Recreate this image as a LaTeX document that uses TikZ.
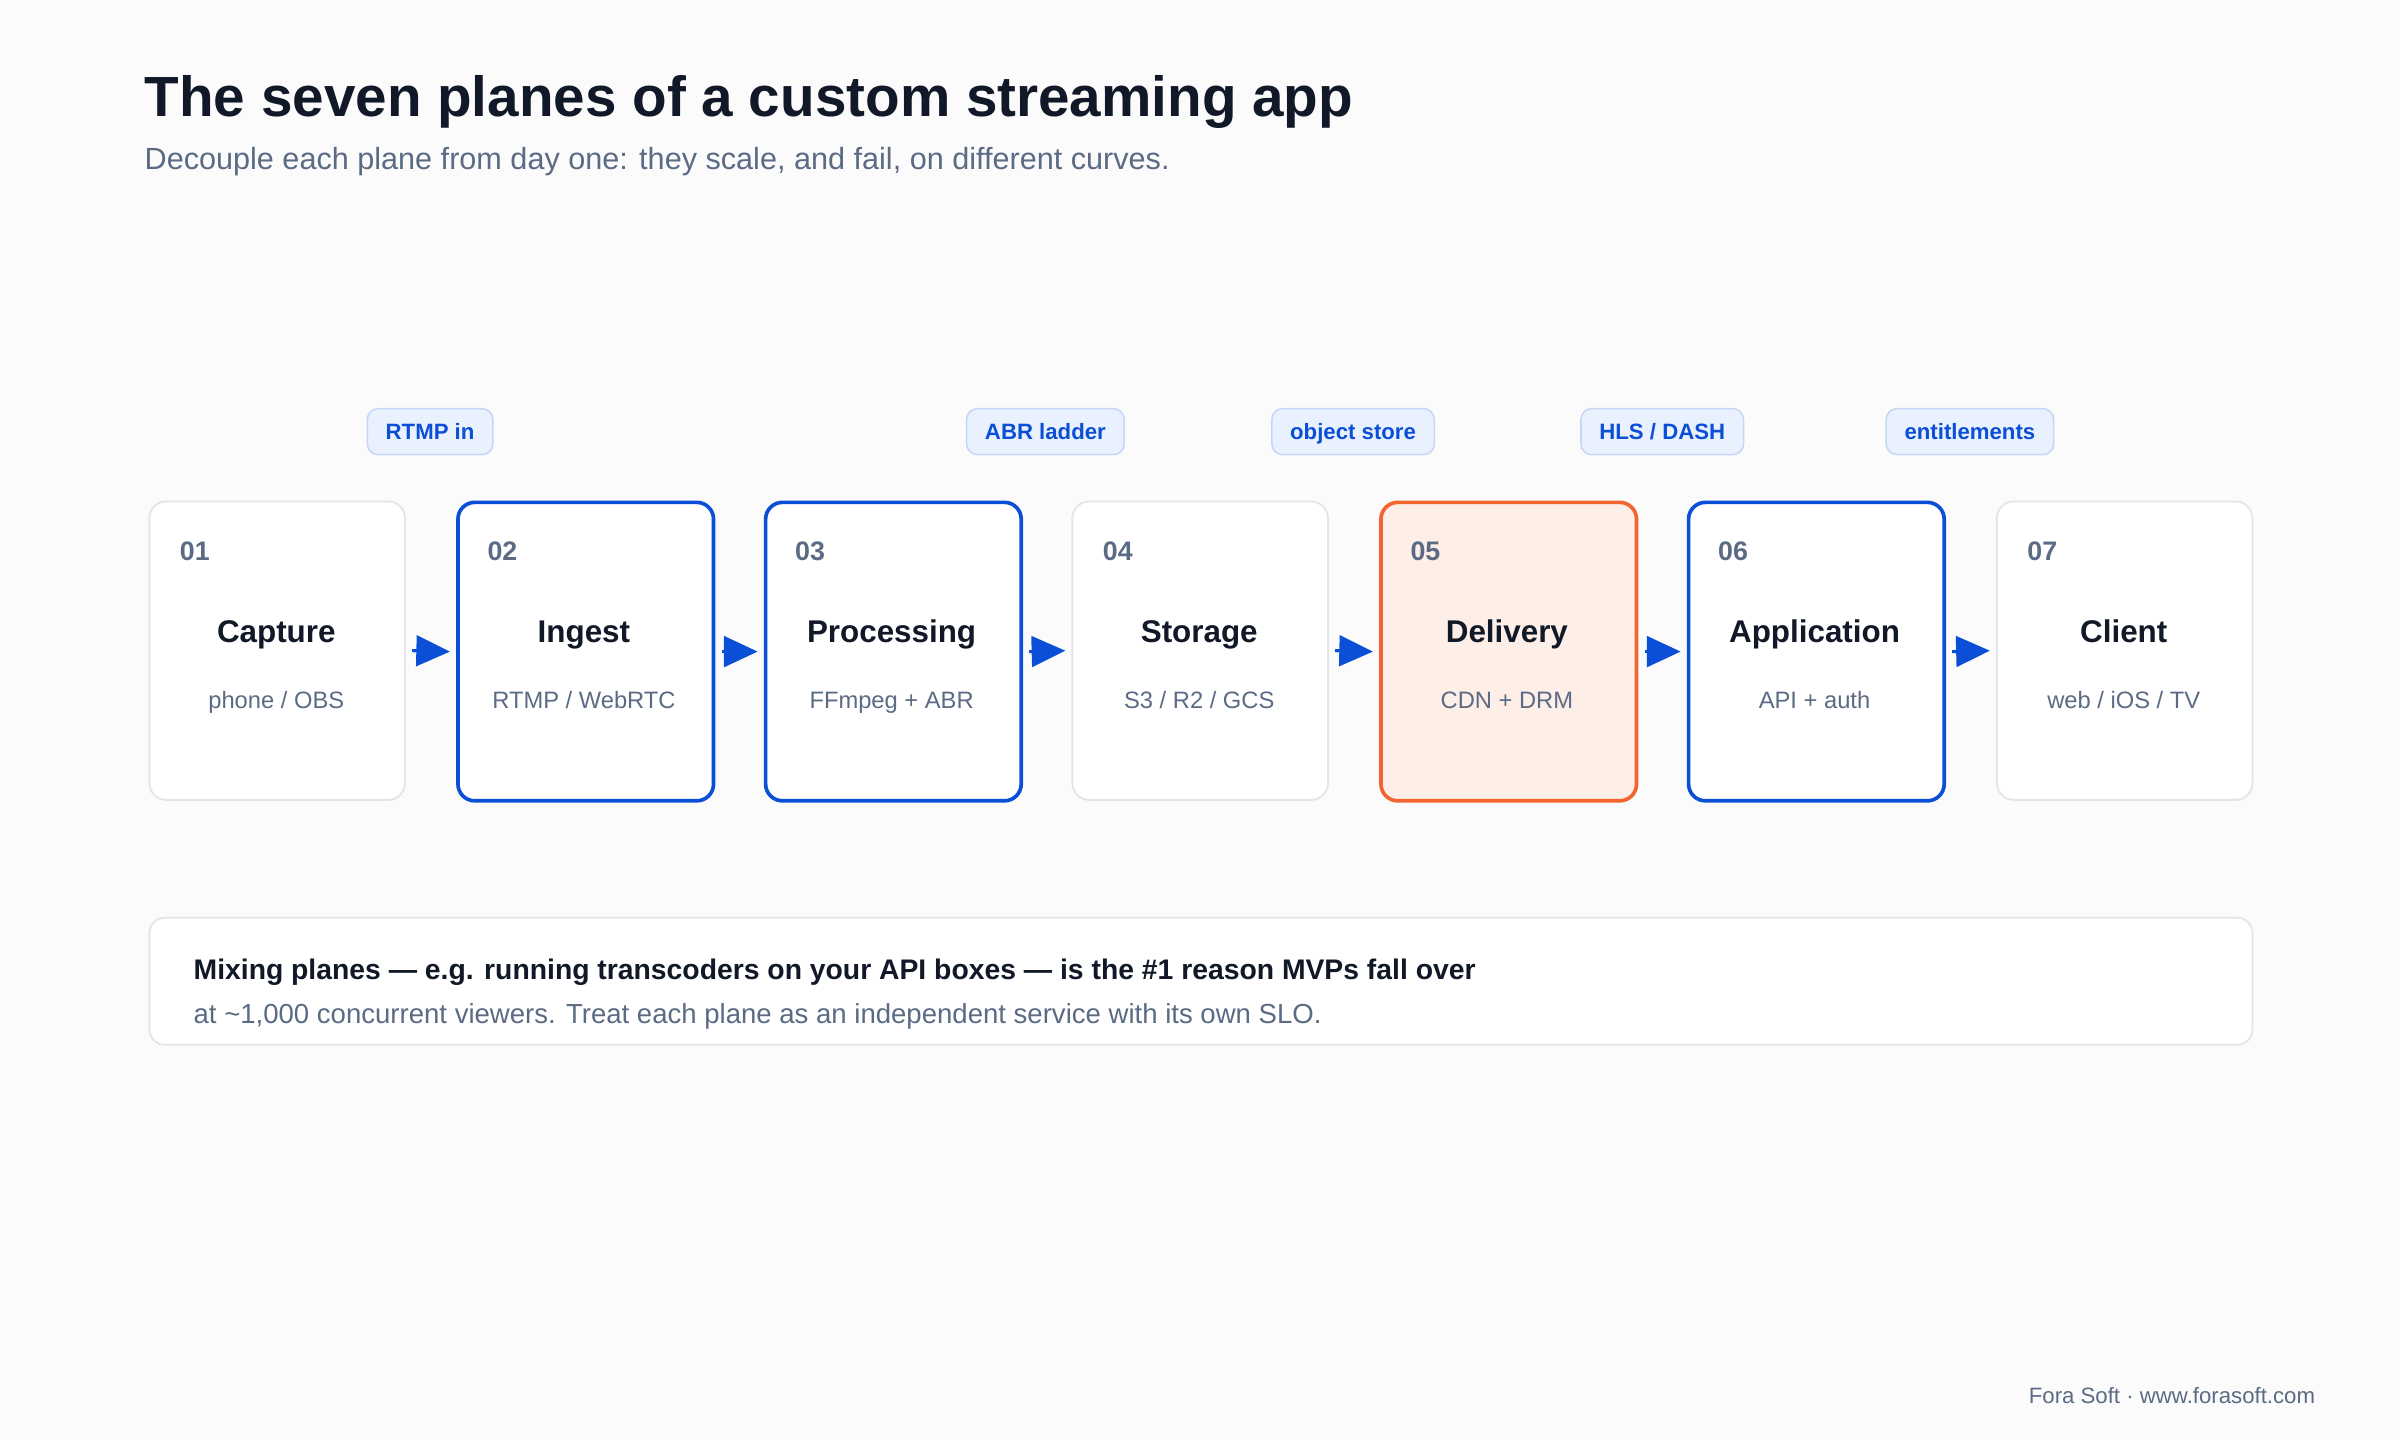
\documentclass[tikz,border=0pt]{standalone}
\usepackage{fontspec}
\setmainfont{Liberation Sans}
\usetikzlibrary{arrows.meta}
\definecolor{bg}{HTML}{FBFBFC}
\definecolor{ink}{HTML}{111827}
\definecolor{mute}{HTML}{5B6B84}
\definecolor{blu}{HTML}{0B4FD6}
\definecolor{org}{HTML}{F26430}
\definecolor{orgf}{HTML}{FDEEE7}
\definecolor{gb}{HTML}{E2E5EC}
\definecolor{pf}{HTML}{EAF1FE}
\definecolor{pb}{HTML}{C6D6F5}
\newcommand{\plane}[6]{%
 \node[#6] (b#1) at (#2,327) {};
 \node[num] (n#1) at (#2+17,366) {#3};
 \node[ttl] (t#1) at (#2+83.5,420) {#4};
 \node[sub] (s#1) at (#2+83.5,463) {#5};
}
\begin{document}
\begin{tikzpicture}[x=1pt,y=-1pt,
 box/.style={draw=gb,line width=1.2pt,fill=white,rounded corners=11pt,minimum width=167pt,minimum height=195pt,anchor=north west,inner sep=0},
 hot/.style={box,draw=blu,line width=2.4pt},
 dlv/.style={box,draw=org,fill=orgf,line width=2.4pt},
 num/.style={font=\fontsize{17.5}{20}\bfseries\selectfont,text=mute,anchor=base west},
 ttl/.style={font=\fontsize{20.5}{24}\bfseries\selectfont,text=ink,anchor=base},
 sub/.style={font=\fontsize{15.5}{18}\selectfont,text=mute,anchor=base},
 pill/.style={draw=pb,fill=pf,rounded corners=7pt,line width=1pt,minimum height=30pt,inner xsep=12pt,inner ysep=0pt,text height=10.5pt,text depth=0pt,font=\fontsize{14.5}{17}\bfseries\selectfont,text=blu},
 arr/.style={draw=blu,line width=2pt,-{Triangle[length=22pt,width=20pt]}}]
\fill[bg] (0,0) rectangle (1568,940);
\useasboundingbox (0,0) rectangle (1568,940);
\node[anchor=base west,font=\fontsize{37}{44}\bfseries\selectfont,text=ink] (title) at (91,76) {The seven planes of a custom streaming app};
\node[anchor=base west,font=\fontsize{20}{23}\selectfont,text=mute] (subt) at (91,111) {Decouple each plane from day one: they scale, and fail, on different curves.};
\plane{1}{97}{01}{Capture}{phone / OBS}{box}
\plane{2}{298}{02}{Ingest}{RTMP / WebRTC}{hot}
\plane{3}{499}{03}{Processing}{FFmpeg + ABR}{hot}
\plane{4}{700}{04}{Storage}{S3 / R2 / GCS}{box}
\plane{5}{901}{05}{Delivery}{CDN + DRM}{dlv}
\plane{6}{1102}{06}{Application}{API + auth}{hot}
\plane{7}{1304}{07}{Client}{web / iOS / TV}{box}
\foreach \a/\b in {1/2,2/3,3/4,4/5,5/6,6/7}{
 \draw[arr] ([xshift=4pt]b\a.east) -- ([xshift=-4pt]b\b.west);
}
\node[pill] (p1) at (281,282) {RTMP in};
\node[pill] (p2) at (683,282) {ABR ladder};
\node[pill] (p3) at (884,282) {object store};
\node[pill] (p4) at (1086,282) {HLS / DASH};
\node[pill] (p5) at (1287,282) {entitlements};
\node[draw=gb,line width=1.2pt,fill=white,rounded corners=10pt,minimum width=1374pt,minimum height=83pt,anchor=north west] (note) at (97,599) {};
\node[anchor=base west,font=\fontsize{18.5}{22}\bfseries\selectfont,text=ink] (l1) at (123,640) {Mixing planes — e.g. running transcoders on your API boxes — is the \#1 reason MVPs fall over};
\node[anchor=base west,font=\fontsize{18}{20}\selectfont,text=mute] (l2) at (123,669) {at \textasciitilde1,000 concurrent viewers. Treat each plane as an independent service with its own SLO.};
\node[anchor=base east,font=\fontsize{14.5}{17}\selectfont,text=mute] (foot) at (1516,917) {Fora Soft · www.forasoft.com};
\end{tikzpicture}
\end{document}
